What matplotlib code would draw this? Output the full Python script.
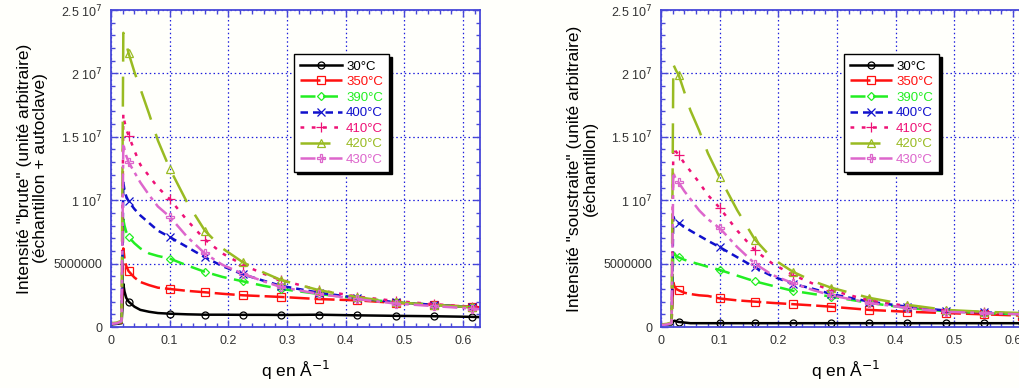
import matplotlib.pyplot as plt
import numpy as np
from matplotlib.ticker import MultipleLocator, FixedLocator

plt.rcParams["font.family"] = ["Liberation Sans", "DejaVu Sans"]

# q values (A^-1) shared by all curves
q = [0.0, 0.01, 0.018, 0.0195, 0.021, 0.023, 0.026, 0.03, 0.04, 0.05, 0.065,
     0.08, 0.1, 0.13, 0.16, 0.19, 0.225, 0.26, 0.29, 0.355, 0.42, 0.485,
     0.55, 0.615, 0.63]

labels = ["30°C", "350°C", "390°C", "400°C", "410°C", "420°C", "430°C"]

# raw intensity (sample + autoclave), left panel
brute_30 = [0.2e6, 0.25e6, 0.3e6, 1.5e6, 3.4e6, 2.8e6, 2.3e6, 2.0e6, 1.6e6, 1.35e6, 1.2e6,
            1.1e6, 1.05e6, 1.0e6, 0.97e6, 0.97e6, 0.96e6, 0.96e6, 0.95e6, 0.97e6, 0.92e6,
            0.88e6, 0.85e6, 0.8e6, 0.78e6]
brute_350 = [0.25e6, 0.3e6, 0.35e6, 3.0e6, 6.2e6, 5.4e6, 4.8e6, 4.4e6, 3.9e6, 3.55e6, 3.3e6,
             3.1e6, 3.0e6, 2.85e6, 2.74e6, 2.62e6, 2.5e6, 2.43e6, 2.37e6, 2.2e6, 2.1e6,
             1.9e6, 1.75e6, 1.6e6, 1.55e6]
brute_390 = [0.25e6, 0.3e6, 0.4e6, 4.0e6, 8.5e6, 8.0e6, 7.5e6, 7.1e6, 6.6e6, 6.2e6, 5.8e6,
             5.6e6, 5.4e6, 4.85e6, 4.35e6, 3.95e6, 3.6e6, 3.25e6, 3.0e6, 2.6e6, 2.25e6,
             1.95e6, 1.75e6, 1.55e6, 1.5e6]
brute_400 = [0.25e6, 0.3e6, 0.4e6, 5.5e6, 11.4e6, 10.8e6, 10.3e6, 9.9e6, 9.3e6, 8.8e6, 8.2e6,
             7.6e6, 7.1e6, 6.3e6, 5.5e6, 4.8e6, 4.15e6, 3.65e6, 3.25e6, 2.7e6, 2.3e6,
             1.95e6, 1.75e6, 1.55e6, 1.5e6]
brute_410 = [0.25e6, 0.3e6, 0.45e6, 8.0e6, 16.8e6, 16.2e6, 15.6e6, 15.1e6, 13.9e6, 12.8e6, 11.9e6,
             11.0e6, 10.1e6, 8.4e6, 6.9e6, 5.8e6, 4.9e6, 4.2e6, 3.7e6, 2.9e6, 2.4e6,
             2.05e6, 1.8e6, 1.6e6, 1.55e6]
brute_420 = [0.3e6, 0.35e6, 0.5e6, 12.0e6, 23.2e6, 22.9e6, 22.3e6, 21.6e6, 20.1e6, 18.8e6, 16.8e6,
             14.7e6, 12.5e6, 9.8e6, 7.6e6, 6.2e6, 5.1e6, 4.3e6, 3.7e6, 2.9e6, 2.35e6,
             1.95e6, 1.75e6, 1.55e6, 1.5e6]
brute_430 = [0.25e6, 0.3e6, 0.45e6, 7.0e6, 14.5e6, 14.0e6, 13.5e6, 13.0e6, 12.2e6, 11.4e6, 10.4e6,
             9.5e6, 8.7e6, 7.1e6, 5.8e6, 4.9e6, 4.2e6, 3.6e6, 3.15e6, 2.6e6, 2.2e6,
             1.85e6, 1.65e6, 1.45e6, 1.4e6]

# subtracted intensity (sample only), right panel
sous_30 = [0.15e6, 0.2e6, 0.2e6, 0.3e6, 0.45e6, 0.5e6, 0.45e6, 0.4e6, 0.35e6, 0.3e6, 0.3e6,
           0.3e6, 0.3e6, 0.3e6, 0.3e6, 0.3e6, 0.3e6, 0.3e6, 0.3e6, 0.3e6, 0.3e6,
           0.3e6, 0.3e6, 0.3e6, 0.3e6]
sous_350 = [0.15e6, 0.2e6, 0.3e6, 1.8e6, 3.5e6, 3.2e6, 3.0e6, 2.9e6, 2.7e6, 2.6e6, 2.5e6,
            2.45e6, 2.25e6, 2.1e6, 2.0e6, 1.9e6, 1.8e6, 1.7e6, 1.6e6, 1.35e6, 1.2e6,
            1.1e6, 1.0e6, 0.9e6, 0.9e6]
sous_390 = [0.15e6, 0.2e6, 0.3e6, 3.0e6, 6.2e6, 5.8e6, 5.6e6, 5.5e6, 5.3e6, 5.15e6, 4.95e6,
            4.75e6, 4.5e6, 4.05e6, 3.6e6, 3.25e6, 2.85e6, 2.6e6, 2.4e6, 1.9e6, 1.5e6,
            1.25e6, 1.1e6, 1.0e6, 0.95e6]
sous_400 = [0.15e6, 0.2e6, 0.3e6, 4.5e6, 8.7e6, 8.5e6, 8.3e6, 8.2e6, 7.9e6, 7.6e6, 7.2e6,
            6.8e6, 6.3e6, 5.5e6, 4.7e6, 4.0e6, 3.4e6, 3.0e6, 2.6e6, 2.0e6, 1.6e6,
            1.3e6, 1.15e6, 1.05e6, 1.0e6]
sous_410 = [0.15e6, 0.2e6, 0.3e6, 7.0e6, 14.2e6, 14.0e6, 13.8e6, 13.6e6, 12.9e6, 12.3e6, 11.4e6,
            10.4e6, 9.4e6, 7.6e6, 6.05e6, 5.0e6, 4.1e6, 3.4e6, 2.9e6, 2.1e6, 1.65e6,
            1.3e6, 1.15e6, 1.05e6, 1.0e6]
sous_420 = [0.2e6, 0.25e6, 0.35e6, 10.0e6, 20.7e6, 20.5e6, 20.2e6, 19.9e6, 18.5e6, 17.1e6, 15.5e6,
            13.7e6, 11.8e6, 9.2e6, 6.9e6, 5.4e6, 4.35e6, 3.6e6, 3.1e6, 2.3e6, 1.75e6,
            1.35e6, 1.2e6, 1.1e6, 1.05e6]
sous_430 = [0.15e6, 0.2e6, 0.3e6, 6.0e6, 12.2e6, 11.9e6, 11.6e6, 11.4e6, 10.7e6, 10.1e6, 9.2e6,
            8.5e6, 7.8e6, 6.3e6, 5.0e6, 4.1e6, 3.45e6, 2.9e6, 2.5e6, 1.9e6, 1.5e6,
            1.2e6, 1.1e6, 1.0e6, 0.95e6]

colors = ["black", "#ff1010", "#22ee22", "#1010cc", "#ee1177", "#99bb22", "#dd66cc"]
styles = ["-", (0, (8, 2)), (0, (6, 3)), (0, (3, 2)), (0, (1.5, 3)), (0, (12, 6)),
          (0, (6, 2, 1.5, 2))]
markers = ["o", "s", "D", "x", "+", "^", "P"]
msizes = [5, 6, 4, 6, 7, 6, 6]

spine_col = "#4848d8"
marker_idx = [7, 12, 14, 16, 18, 19, 20, 21, 22, 23]


def panel(ax, series, ylabel, xmax):
    for y, lab, c, ls, m, ms in zip(series, labels, colors, styles, markers, msizes):
        ax.plot(q, y, color=c, linestyle=ls, linewidth=1.8, marker=m, markersize=ms,
                markerfacecolor="none", markeredgecolor=c, markeredgewidth=0.9,
                markevery=marker_idx, label=lab)
    ax.set_xlim(0, xmax)
    ax.set_ylim(0, 2.5e7)
    ax.xaxis.set_major_locator(MultipleLocator(0.1))
    ax.xaxis.set_minor_locator(MultipleLocator(0.02))
    ax.yaxis.set_major_locator(FixedLocator([0, 5e6, 1e7, 1.5e7, 2e7, 2.5e7]))
    ax.yaxis.set_minor_locator(MultipleLocator(1e6))
    ax.set_yticklabels(["0", "5000000", "1 10$^{7}$", "1.5 10$^{7}$", "2 10$^{7}$",
                        "2.5 10$^{7}$"])
    ax.set_xticklabels(["0" if v == 0 else f"{v:.1f}" for v in ax.get_xticks()])
    ax.tick_params(which="both", direction="in", top=True, right=True,
                   color=spine_col, labelcolor="#333333", labelsize=9)
    ax.tick_params(which="major", length=5, width=1, pad=6)
    ax.tick_params(which="minor", length=3, width=1)
    for s in ax.spines.values():
        s.set_color(spine_col)
        s.set_linewidth(1.3)
    ax.grid(True, which="major", color="#2020dd", linestyle=(0, (1.2, 2.2)), linewidth=0.9)
    ax.set_axisbelow(True)
    ax.set_ylabel(ylabel, fontsize=12.5, linespacing=1.1, labelpad=4)
    ax.set_xlabel("q en Å$^{-1}$", fontsize=12.5, labelpad=8)
    leg = ax.legend(loc="upper left", bbox_to_anchor=(0.496, 0.86), fontsize=9.5,
                    fancybox=False, edgecolor="black", framealpha=1, numpoints=1,
                    handlelength=3.2, handletextpad=0.3, borderpad=0.45,
                    labelspacing=0.25, borderaxespad=0,
                    shadow={"color": "black", "alpha": 1})
    leg.get_frame().set_linewidth(1.0)
    for t, c in zip(leg.get_texts(), colors):
        t.set_color(c)


fig = plt.figure(figsize=(10.2, 3.88), dpi=100, facecolor="#fffffb")
ax1 = fig.add_axes([111 / 1020, 61 / 388, 369 / 1020, 317 / 388])
ax2 = fig.add_axes([661 / 1020, 61 / 388, 369 / 1020, 317 / 388])
for a in (ax1, ax2):
    a.set_facecolor("#fffffb")

panel(ax1, [brute_30, brute_350, brute_390, brute_400, brute_410, brute_420, brute_430],
      'Intensité "brute" (unité arbitraire)\n(échantillon + autoclave)', 0.629)
panel(ax2, [sous_30, sous_350, sous_390, sous_400, sous_410, sous_420, sous_430],
      'Intensité "soustraite" (unité arbitraire)\n(échantillon)', 0.629)

fig.savefig("out.png", dpi=100, facecolor=fig.get_facecolor())
